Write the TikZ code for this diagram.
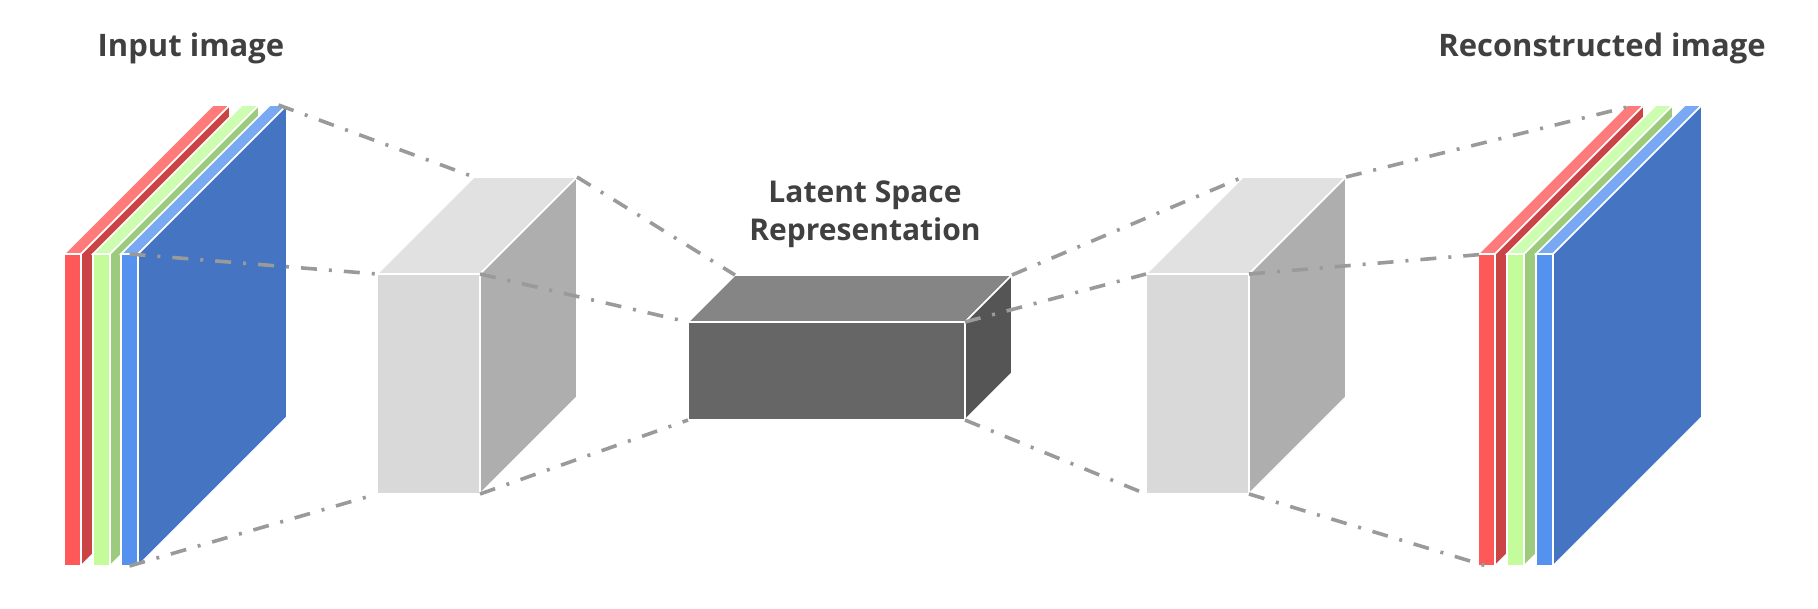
\documentclass[tikz,border=0pt]{standalone}
\usepackage{fontspec}
\setmainfont{Open Sans}
\definecolor{redF}{HTML}{FF5858}
\definecolor{redT}{HTML}{FF7B7B}
\definecolor{redS}{HTML}{CA4445}
\definecolor{greenF}{HTML}{C4FC9C}
\definecolor{greenT}{HTML}{CDFDB0}
\definecolor{greenS}{HTML}{9CCB7E}
\definecolor{blueF}{HTML}{5591EE}
\definecolor{blueT}{HTML}{78A9F2}
\definecolor{blueS}{HTML}{4474C2}
\definecolor{lgF}{HTML}{D9D9D9}
\definecolor{lgT}{HTML}{E1E1E1}
\definecolor{lgS}{HTML}{AEAEAE}
\definecolor{dgF}{HTML}{666666}
\definecolor{dgT}{HTML}{858585}
\definecolor{dgS}{HTML}{555555}
\definecolor{linkgray}{HTML}{9A9A9A}
\definecolor{titlegray}{HTML}{404040}
% plate: #1 x0, #2 name, #3 front, #4 top, #5 side
\newcommand\drawplate[5]{%
  \coordinate (#2-ftl) at (#1,254);
  \coordinate (#2-ftr) at (#1+17,254);
  \coordinate (#2-fbl) at (#1,566);
  \coordinate (#2-fbr) at (#1+17,566);
  \coordinate (#2-btl) at (#1+149,105);
  \coordinate (#2-btr) at (#1+166,105);
  \coordinate (#2-bbr) at (#1+166,417);
  \coordinate (#2-tm) at (#1+157.5,105);
  \coordinate (#2-fm) at (#1+8.5,254);
  \coordinate (#2-bm) at (#1+8.5,566);
  \path[face,fill=#4] (#2-ftl) -- (#2-ftr) -- (#2-btr) -- (#2-btl) -- cycle;
  \path[face,fill=#5] (#2-ftr) -- (#2-btr) -- (#2-bbr) -- (#2-fbr) -- cycle;
  \path[face,fill=#3] (#2-ftl) -- (#2-ftr) -- (#2-fbr) -- (#2-fbl) -- cycle;
}
% box: #1 name, #2 x1, #3 y1, #4 x2, #5 y2, #6 depth, #7 front, #8 top, #9 side
\newcommand\drawbox[9]{%
  \coordinate (#1-ftl) at (#2,#3);
  \coordinate (#1-ftr) at (#4,#3);
  \coordinate (#1-fbl) at (#2,#5);
  \coordinate (#1-fbr) at (#4,#5);
  \coordinate (#1-btl) at (#2+#6,#3-#6);
  \coordinate (#1-btr) at (#4+#6,#3-#6);
  \coordinate (#1-bbr) at (#4+#6,#5-#6);
  \path[face,fill=#8] (#1-ftl) -- (#1-ftr) -- (#1-btr) -- (#1-btl) -- cycle;
  \path[face,fill=#9] (#1-ftr) -- (#1-btr) -- (#1-bbr) -- (#1-fbr) -- cycle;
  \path[face,fill=#7] (#1-ftl) -- (#1-ftr) -- (#1-fbr) -- (#1-fbl) -- cycle;
}
\begin{document}
\begin{tikzpicture}[x=1pt,y=-1pt,
  face/.style={draw=white,line width=1.6pt,line join=miter},
  link/.style={draw=linkgray,line width=3.6pt,dash pattern=on 16pt off 12pt on 3pt off 12pt},
  title/.style={font=\fontsize{31}{38}\selectfont\bfseries,text=titlegray,inner sep=0pt}]
\useasboundingbox (0,0) rectangle (1818,608);
% input image
\drawplate{64}{inR}{redF}{redT}{redS}
\drawplate{93}{inG}{greenF}{greenT}{greenS}
\drawplate{121}{inB}{blueF}{blueT}{blueS}
% output image
\drawplate{1478}{outR}{redF}{redT}{redS}
\drawplate{1507}{outG}{greenF}{greenT}{greenS}
\drawplate{1536}{outB}{blueF}{blueT}{blueS}
% boxes
\drawbox{boxA}{377}{274}{480}{494}{97}{lgF}{lgT}{lgS}
\drawbox{mid}{688}{322}{965}{420}{47}{dgF}{dgT}{dgS}
\drawbox{boxB}{1146}{274}{1249}{494}{97}{lgF}{lgT}{lgS}
% titles
\node[title,anchor=base] (inlabel) at (191,56) {Input image};
\node[title,anchor=base] (outlabel) at (1602,56) {Reconstructed image};
\node[title,align=center,anchor=north,font=\fontsize{30}{38}\selectfont\bfseries] (latent) at (865,181) {Latent Space\\Representation};
% connectors
\draw[link] (inB-tm) -- (boxA-btl);
\draw[link] (inB-fm) -- (boxA-ftl);
\draw[link] (inB-bm) -- (boxA-fbl);
\draw[link] (boxA-btr) -- (mid-btl);
\draw[link] (boxA-ftr) -- (mid-ftl);
\draw[link] (boxA-fbr) -- (mid-fbl);
\draw[link] (mid-btr) -- (boxB-btl);
\draw[link] (mid-ftr) -- (boxB-ftl);
\draw[link] (mid-fbr) -- (boxB-fbl);
\draw[link] (boxB-btr) -- (outR-tm);
\draw[link] (boxB-ftr) -- (outR-fm);
\draw[link] (boxB-fbr) -- (outR-bm);
\end{tikzpicture}
\end{document}
